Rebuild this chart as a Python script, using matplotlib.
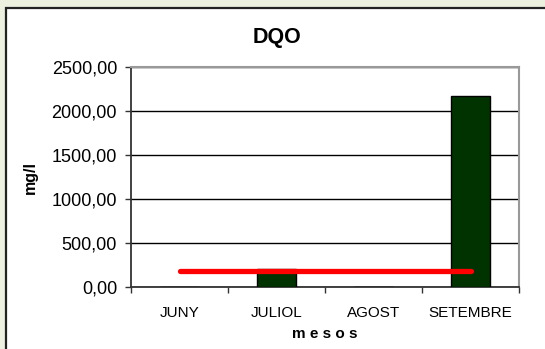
import matplotlib
matplotlib.use("Agg")
import matplotlib.pyplot as plt
from matplotlib.patches import Rectangle
import numpy as np

# monthly DQO values (mg/l) and the reference limit
mesos = ["JUNY", "JULIOL", "AGOST", "SETEMBRE"]
dqo = [0.0, 200.0, 0.0, 2175.0]
limit = [175.0, 175.0, 175.0, 175.0]
yticks = [0, 500, 1000, 1500, 2000, 2500]
ytick_labels = ["0,00", "500,00", "1000,00", "1500,00", "2000,00", "2500,00"]

plt.rcParams['font.family'] = ['Liberation Sans', 'DejaVu Sans']

bg_color = '#ebf1de'
bar_color = '#003300'

fig = plt.figure(figsize=(5.45, 3.49), dpi=100, facecolor=bg_color)

# white chart frame behind the axes
frame = Rectangle((6/545, -0.05), 1.0, 1 - 8/349 + 0.05, transform=fig.transFigure,
                  facecolor='white', edgecolor='#222222', lw=1.6, zorder=-10)
fig.patches.append(frame)

ax = fig.add_axes([131/545, 62.3/349, 388/545, 219.4/349])
ax.set_zorder(5)
ax.set_facecolor('white')
x = np.arange(len(mesos))

ax.bar(x, dqo, width=0.41, color=bar_color, edgecolor='black', lw=1.0, zorder=3)
ax.plot(x, limit, color='#ff0000', lw=3.8, solid_capstyle='round', zorder=4)

ax.set_xlim(-0.5, len(mesos) - 0.5)
ax.set_ylim(0, 2500)
ax.set_yticks(yticks)
ax.set_yticklabels(ytick_labels, fontsize=13)
ax.yaxis.grid(True, color='black', lw=1.0, zorder=1)
ax.set_axisbelow(True)

ax.set_xticks(x)
ax.set_xticklabels(mesos, fontsize=11)
ax.set_xticks(np.arange(len(mesos) + 1) - 0.5, minor=True)
ax.tick_params(axis='x', which='major', length=0, pad=14)
ax.tick_params(axis='x', which='minor', length=4, width=1, color='#333333')
ax.tick_params(axis='y', length=4, width=1, color='#333333', pad=6)

for side in ['top', 'right']:
    ax.spines[side].set_color('#999999')
    ax.spines[side].set_linewidth(1.5)
for side in ['left', 'bottom']:
    ax.spines[side].set_color('#333333')
    ax.spines[side].set_linewidth(1.3)

fig.text(277/545, 1 - 37/349, "DQO", fontsize=15.5, fontweight='bold', ha='center', va='center')
fig.text(325/545, 1 - 334/349, "m e s o s", fontsize=11, fontweight='bold', ha='center', va='center')
fig.text(30/545, 1 - 177/349, "mg/l", fontsize=11.5, fontweight='bold', rotation=90,
         ha='center', va='center')

fig.savefig("out.png", dpi=100, facecolor=bg_color)
